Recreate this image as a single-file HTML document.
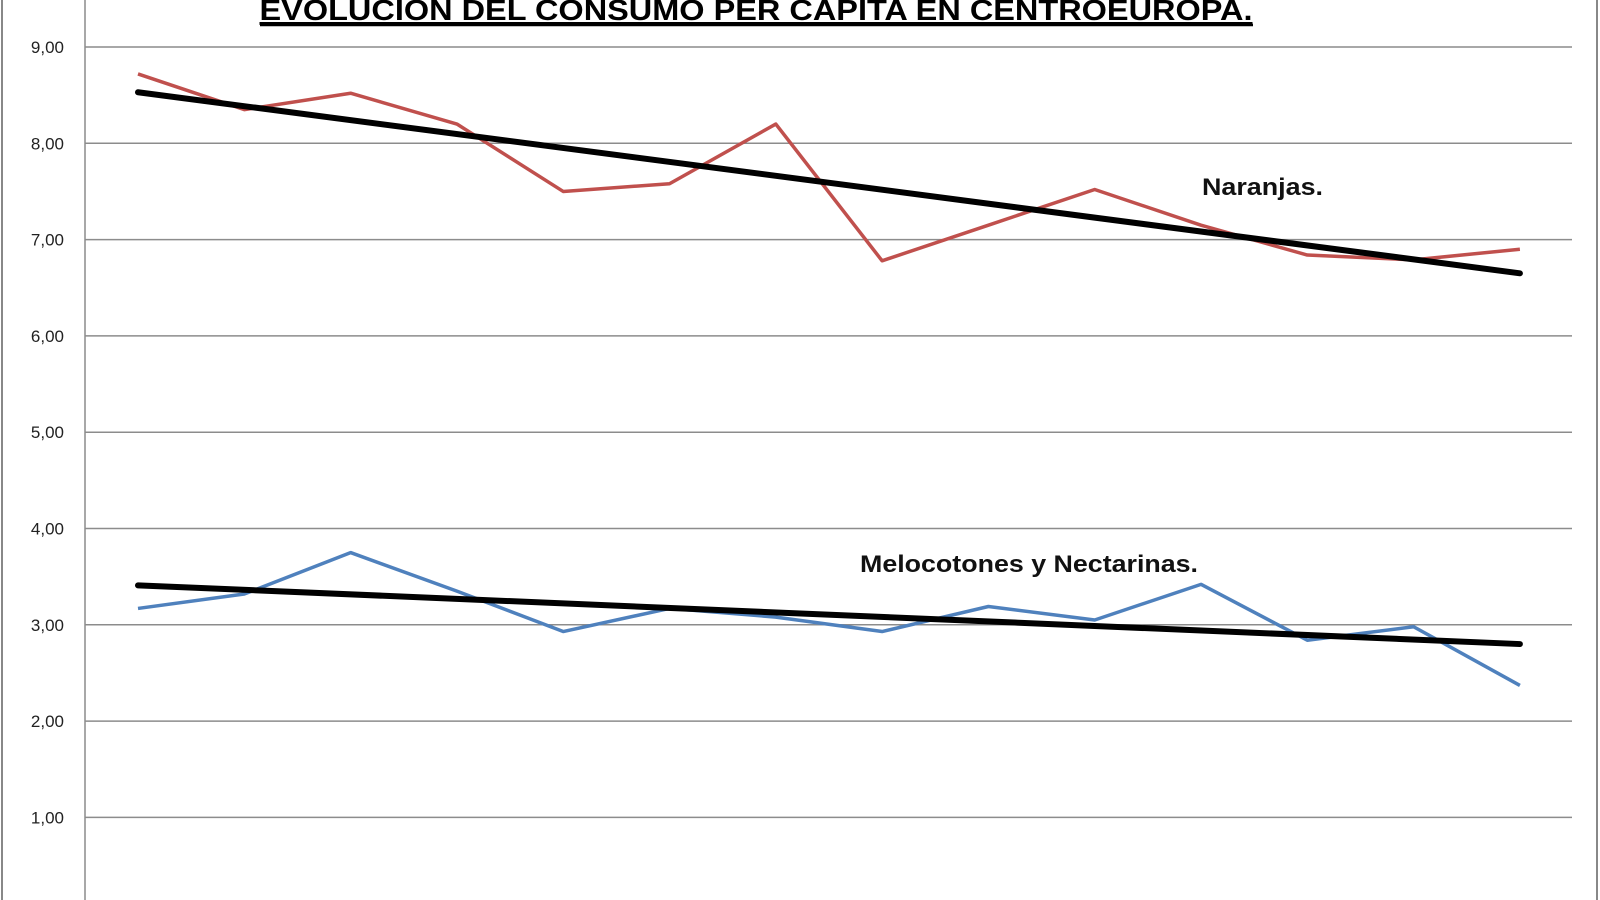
<!DOCTYPE html>
<html><head><meta charset="utf-8"><style>html,body{margin:0;padding:0;background:#fff}svg{display:block}</style></head>
<body>
<svg id="s" width="1600" height="900" xmlns="http://www.w3.org/2000/svg" font-family="Liberation Sans, sans-serif">
<rect width="1600" height="900" fill="#fff"/>
<line x1="2" y1="0" x2="2" y2="900" stroke="#888" stroke-width="2"/>
<line x1="1597" y1="0" x2="1597" y2="900" stroke="#888" stroke-width="2"/>
<g id="grid" stroke="#8c8c8c" stroke-width="1.5"></g>
<line x1="85" y1="0" x2="85" y2="900" stroke="#8c8c8c" stroke-width="1.5"/>
<g id="lab" font-size="17" fill="#222" text-anchor="end"></g>
<text x="756" y="20" font-size="29" font-weight="bold" text-anchor="middle" textLength="993" lengthAdjust="spacingAndGlyphs" text-decoration="underline">EVOLUCION DEL CONSUMO PER CAPITA EN CENTROEUROPA.</text>
<line x1="260" y1="25" x2="1253" y2="25" stroke="#000" stroke-width="2.5"/>
<polyline id="red" fill="none" stroke="#c0504d" stroke-width="3.5" stroke-linejoin="round"/>
<polyline id="blue" fill="none" stroke="#4f81bd" stroke-width="3.5" stroke-linejoin="round"/>
<line id="t1" stroke="#000" stroke-width="6" stroke-linecap="round"/>
<line id="t2" stroke="#000" stroke-width="6" stroke-linecap="round"/>
<text x="1202" y="195" font-size="24" font-weight="bold" fill="#111" textLength="121" lengthAdjust="spacingAndGlyphs">Naranjas.</text>
<text x="860" y="572" font-size="24" font-weight="bold" fill="#111" textLength="338" lengthAdjust="spacingAndGlyphs">Melocotones y Nectarinas.</text>
</svg>
<script>
var Y=function(v){return 47+(9-v)*96.3};
var X=function(i){return 138+i*106.3};
var g=document.getElementById('grid'),l=document.getElementById('lab'),ns='http://www.w3.org/2000/svg';
for(var v=1;v<=9;v++){var ln=document.createElementNS(ns,'line');ln.setAttribute('x1',85);ln.setAttribute('x2',1572);ln.setAttribute('y1',Y(v));ln.setAttribute('y2',Y(v));g.appendChild(ln);
var t=document.createElementNS(ns,'text');t.setAttribute('x',64);t.setAttribute('y',Y(v)+6);t.textContent=v+',00';l.appendChild(t);}
var r=[8.72,8.35,8.52,8.2,7.5,7.58,8.2,6.78,7.15,7.52,7.15,6.84,6.79,6.9];
var b=[3.17,3.32,3.75,3.35,2.93,3.17,3.08,2.93,3.19,3.05,3.42,2.84,2.98,2.37];
function pts(a){return a.map(function(v,i){return X(i)+','+Y(v)}).join(' ')}
document.getElementById('red').setAttribute('points',pts(r));
document.getElementById('blue').setAttribute('points',pts(b));
function tl(id,a,c){var e=document.getElementById(id);e.setAttribute('x1',X(0));e.setAttribute('x2',X(13));e.setAttribute('y1',Y(a));e.setAttribute('y2',Y(c));}
tl('t1',8.53,6.65);tl('t2',3.41,2.80);
</script>
</body></html>
